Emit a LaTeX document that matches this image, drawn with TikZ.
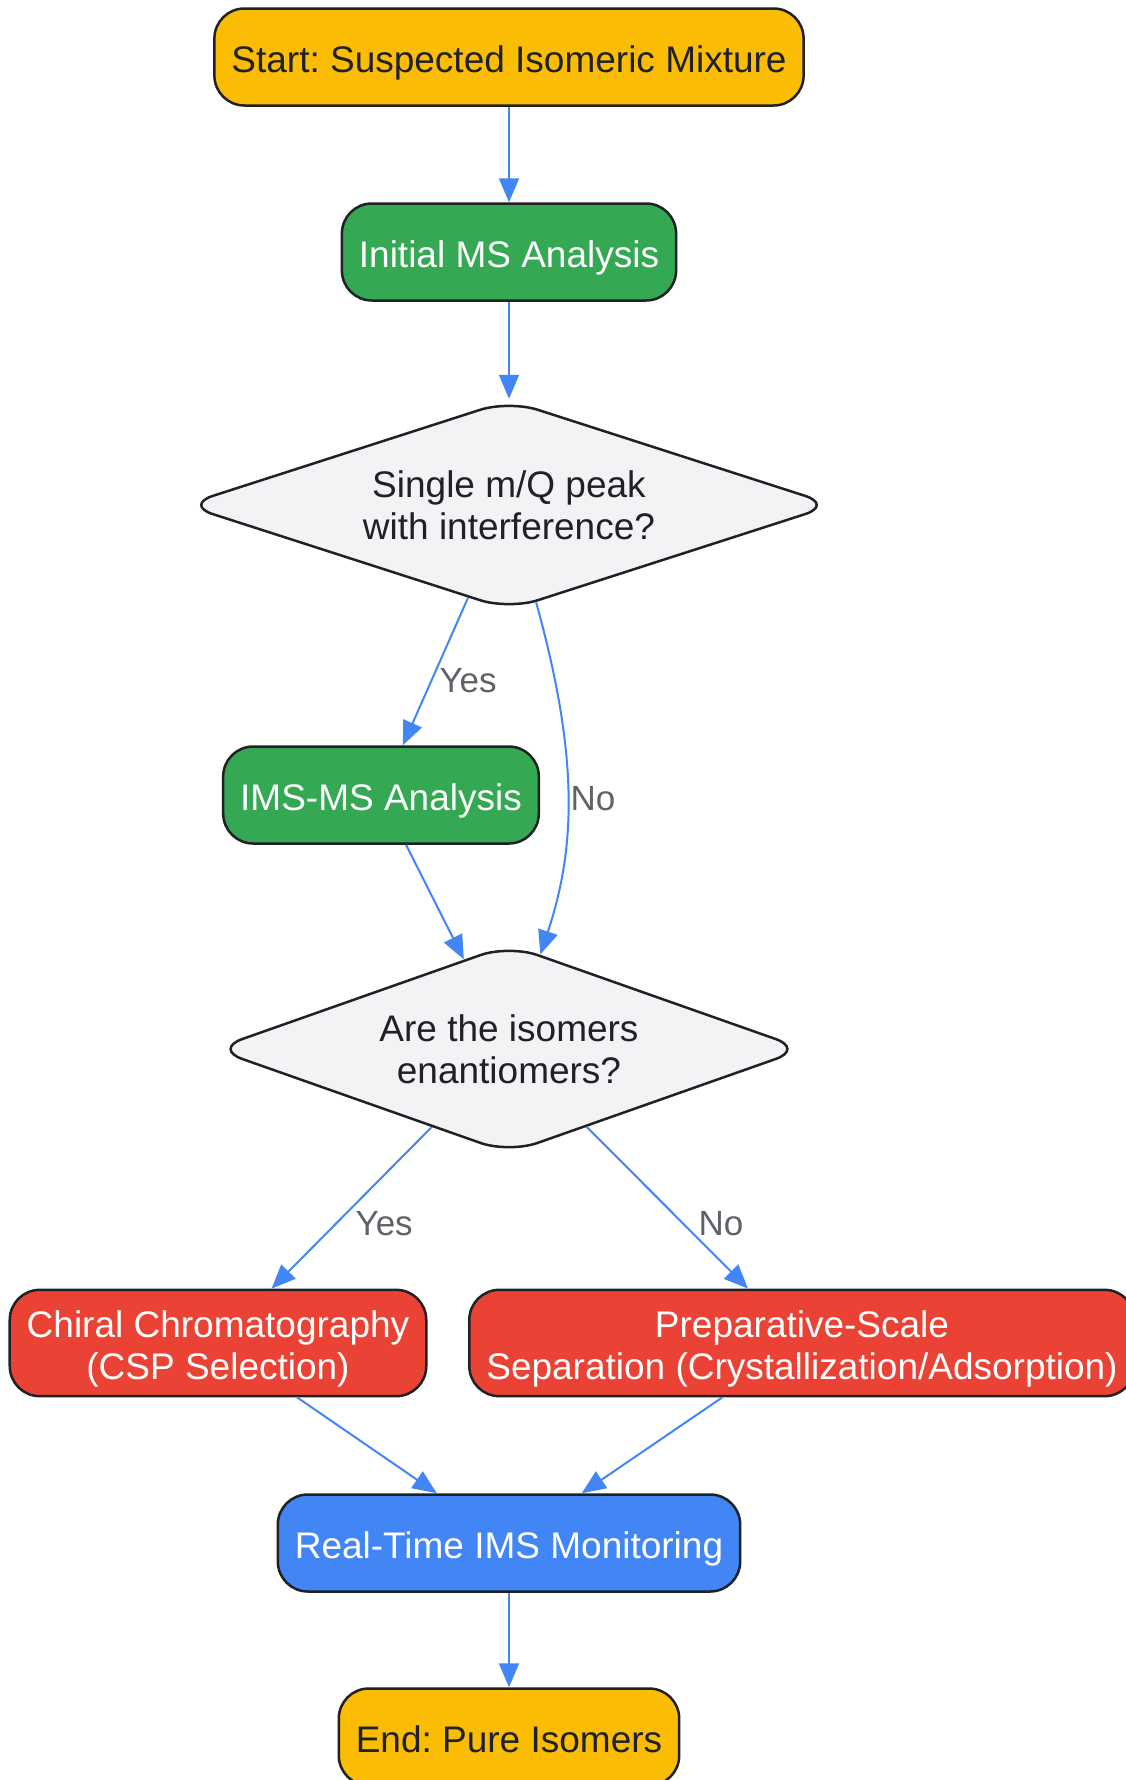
\documentclass[tikz,border=0pt]{standalone}
\usepackage{fontspec}
\setmainfont{Liberation Sans}
\frenchspacing
\usetikzlibrary{arrows.meta,shapes.geometric}
\definecolor{gyellow}{HTML}{FBBC04}
\definecolor{ggreen}{HTML}{34A853}
\definecolor{gred}{HTML}{EA4335}
\definecolor{gblue}{HTML}{4285F4}
\definecolor{ggrey}{HTML}{F1F3F4}
\definecolor{gink}{HTML}{202124}
\definecolor{glabel}{HTML}{5F6368}
\newcommand\lnstrut{\vrule height 1.04em depth .212em width 0pt}
\begin{document}
\begin{tikzpicture}[x=1pt,y=-1pt,
    every node/.style={font=\fontsize{37}{42}\selectfont},
    box/.style={draw=gink,line width=2.5pt,rounded corners=30pt,minimum height=97pt,
      inner xsep=17pt,inner ysep=9pt,align=center,
      execute at begin node=\lnstrut,execute at end node=\lnstrut},
    terminal/.style={box,fill=gyellow,text=gink},
    process/.style={box,fill=ggreen,text=white},
    method/.style={box,fill=gred,text=white,minimum height=106pt},
    monitor/.style={box,fill=gblue,text=white},
    decision/.style={diamond,draw=gink,line width=2.5pt,fill=ggrey,text=gink,
      rounded corners=30pt,inner sep=0pt,align=center},
    flow/.style={draw=gblue,line width=2pt,-{Triangle[length=24pt,width=20pt]}},
    lbl/.style={font=\fontsize{35}{40}\selectfont,text=glabel,inner sep=2pt}]
    \useasboundingbox (0,0) rectangle (1126,1780);
    % nodes
    \node[terminal] (start) at (509,57) {Start: Suspected Isomeric Mixture};
    \node[process] (initms) at (509,252) {Initial MS Analysis};
    \node[decision,aspect=3.1,minimum width=650pt,minimum height=210pt] (peak) at (509,505)
      {Single m/Q peak\\with interference?};
    \node[process] (imsms) at (381,795) {IMS-MS Analysis};
    \node[decision,aspect=2.83,minimum width=591pt,minimum height=209pt] (enant) at (509,1049)
      {Are the isomers\\enantiomers?};
    \node[method] (chiral) at (218,1343) {\lnstrut Chiral Chromatography\\(CSP Selection)};
    \node[method] (prep) at (802,1343) {\lnstrut Preparative-Scale\\Separation (Crystallization/Adsorption)};
    \node[monitor] (rtims) at (509,1543) {Real-Time IMS Monitoring};
    \node[terminal] (finish) at (509,1737) {End: Pure Isomers};
    % connectors
    \draw[flow] (start) -- (initms);
    \draw[flow] (initms) -- (peak);
    \draw[flow] (peak) -- node[lbl,pos=0.56,right=5pt] {Yes} (imsms);
    \draw[flow] (peak) .. controls (580,760) and (575,850) .. node[lbl,pos=0.5,anchor=west] {No} (enant);
    \draw[flow] (imsms) -- (enant);
    \draw[flow] (enant) -- node[lbl,pos=0.6,right=17pt] {Yes} (chiral);
    \draw[flow] (enant) -- node[lbl,pos=0.6,right=12pt] {No} (prep);
    \draw[flow] (chiral) -- (rtims);
    \draw[flow] (prep) -- (rtims);
    \draw[flow] (rtims) -- (finish);
\end{tikzpicture}
\end{document}
